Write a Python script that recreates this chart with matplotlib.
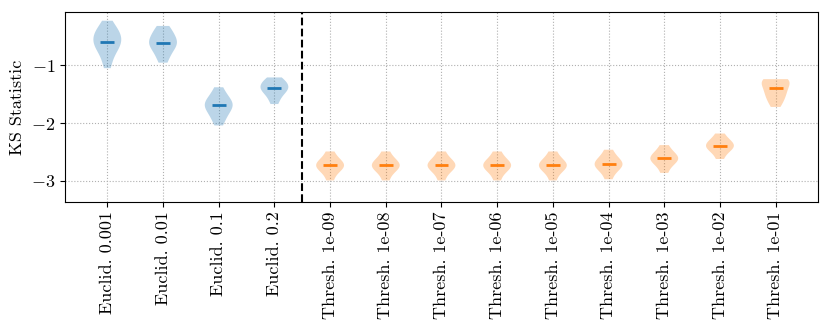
import numpy as np
import matplotlib
matplotlib.use('Agg')
import matplotlib.pyplot as plt

# LaTeX-ish look without needing LaTeX
plt.rcParams['font.family'] = 'serif'
plt.rcParams['font.serif'] = ['cmr10']
plt.rcParams['mathtext.fontset'] = 'cm'
plt.rcParams['axes.formatter.use_mathtext'] = True
plt.rcParams['font.size'] = 13

# Category labels
euclidLabels = ['Euclid. 0.001', 'Euclid. 0.01', 'Euclid. 0.1', 'Euclid. 0.2']
threshLabels = ['Thresh. 1e-09', 'Thresh. 1e-08', 'Thresh. 1e-07', 'Thresh. 1e-06',
                'Thresh. 1e-05', 'Thresh. 1e-04', 'Thresh. 1e-03', 'Thresh. 1e-02',
                'Thresh. 1e-01']

# KS statistic samples
euclid0001 = [-0.23, -0.33, -0.39, -0.43, -0.46, -0.50, -0.54, -0.59, -0.62, -0.65, -0.69, -0.74, -0.81, -0.92, -1.05]
euclid001 = [-0.32, -0.38, -0.44, -0.49, -0.54, -0.58, -0.61, -0.64, -0.67, -0.71, -0.78, -0.86, -0.955]
euclid01 = [-1.38, -1.48, -1.55, -1.60, -1.64, -1.67, -1.69, -1.72, -1.76, -1.81, -1.87, -1.94, -2.04]
euclid02 = [-1.21, -1.25, -1.29, -1.32, -1.35, -1.38, -1.41, -1.43, -1.46, -1.51, -1.58, -1.67]
thresh1e09 = [-2.49, -2.61, -2.67, -2.70, -2.73, -2.76, -2.79, -2.85, -2.99]
thresh1e08 = [-2.49, -2.61, -2.67, -2.70, -2.73, -2.76, -2.79, -2.85, -2.99]
thresh1e07 = [-2.49, -2.61, -2.67, -2.70, -2.73, -2.76, -2.79, -2.85, -2.99]
thresh1e06 = [-2.49, -2.61, -2.67, -2.70, -2.73, -2.76, -2.79, -2.85, -2.99]
thresh1e05 = [-2.49, -2.61, -2.67, -2.70, -2.73, -2.76, -2.79, -2.85, -2.99]
thresh1e04 = [-2.46, -2.58, -2.64, -2.68, -2.71, -2.74, -2.77, -2.83, -2.97]
thresh1e03 = [-2.38, -2.49, -2.55, -2.58, -2.61, -2.64, -2.67, -2.73, -2.86]
thresh1e02 = [-2.18, -2.28, -2.33, -2.36, -2.39, -2.42, -2.45, -2.50, -2.62]
thresh1e01 = [-1.24, -1.24, -1.25, -1.27, -1.30, -1.35, -1.40, -1.44, -1.48, -1.53, -1.58, -1.64, -1.72]

euclidData = [euclid0001, euclid001, euclid01, euclid02]
threshData = [thresh1e09, thresh1e08, thresh1e07, thresh1e06, thresh1e05,
              thresh1e04, thresh1e03, thresh1e02, thresh1e01]

fig, ax = plt.subplots(figsize=(8.3, 3.32), dpi=100)
fig.subplots_adjust(left=0.0783, right=0.9855, top=0.963, bottom=0.3925)

euclidPos = np.arange(1, len(euclidData) + 1)
threshPos = np.arange(len(euclidData) + 1, len(euclidData) + len(threshData) + 1)

# Draw each group in its own colour
for data, pos, col in [(euclidData, euclidPos, 'C0'), (threshData, threshPos, 'C1')]:
	parts = ax.violinplot(data, positions=pos, showmedians=True, showextrema=False)
	for body in parts['bodies']:
		body.set_facecolor(col)
		body.set_edgecolor('none')
		body.set_alpha(0.3)
	parts['cmedians'].set_color(col)
	parts['cmedians'].set_linewidth(2)

# Separator between the two methods
ax.axvline(len(euclidData) + 0.5, color='black', linestyle='--', linewidth=1.5)

ax.set_xticks(np.concatenate([euclidPos, threshPos]))
ax.set_xticklabels(euclidLabels + threshLabels, rotation=90)
ax.set_yticks([-1, -2, -3])
ax.set_xlim(0.24, 13.76)
ax.set_ylim(-3.358, -0.084)
ax.set_ylabel('KS Statistic')
ax.grid(True, linestyle=':', color='#b0b0b0', linewidth=0.8)
ax.set_axisbelow(True)

fig.savefig('out.png', dpi=100)
